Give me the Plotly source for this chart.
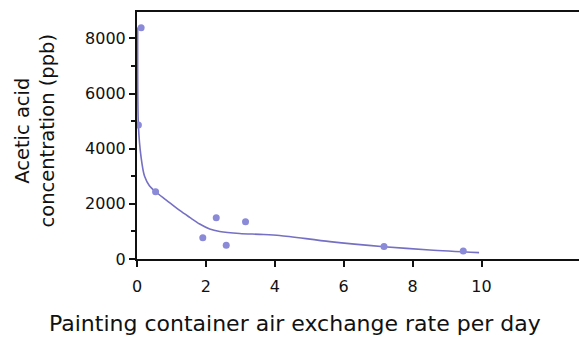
import plotly.graph_objects as go

# Measured acetic acid concentrations vs. container air exchange rate
rate = [0.12, 0.04, 0.54, 1.91, 2.30, 2.59, 3.15, 7.17, 9.47]
acetic_ppb = [8390, 4860, 2440, 770, 1500, 500, 1350, 450, 290]

# Fitted trend line
fit_rate = [0.02, 0.04, 0.12, 0.22, 0.36, 0.54, 0.85, 1.24, 1.53, 1.82,
            2.11, 2.40, 2.98, 3.56, 4.14, 5.60, 7.17, 8.50, 9.93]
fit_ppb = [8400, 4860, 3680, 3000, 2660, 2440, 2140, 1760, 1510, 1270,
           1090, 1000, 925, 895, 855, 630, 447, 327, 230]

x_ticks = [0, 2, 4, 6, 8, 10]
y_ticks = [0, 2000, 4000, 6000, 8000]

x_title = "Painting container air exchange rate per day"
y_title = "Acetic acid<br>concentration (ppb)"

font_family = "'DejaVu Sans', sans-serif"

fig = go.Figure()
fig.add_trace(go.Scatter(
    x=fit_rate, y=fit_ppb, mode="lines",
    line=dict(color="#7570c4", width=1.6, shape="spline", smoothing=0.8),
    hoverinfo="skip", showlegend=False,
))
fig.add_trace(go.Scatter(
    x=rate, y=acetic_ppb, mode="markers",
    marker=dict(color="#8a8ad8", size=7, symbol="circle"),
    showlegend=False,
))

fig.update_layout(
    width=579, height=339,
    margin=dict(l=137, r=0, t=12, b=80),
    paper_bgcolor="white", plot_bgcolor="white",
    font=dict(family=font_family, color="#111111", size=16),
    xaxis=dict(
        range=[0, 12.83], tickvals=x_ticks, ticktext=[str(v) for v in x_ticks],
        ticks="outside", ticklen=6, tickwidth=2, tickcolor="#111111",
        ticklabelstandoff=6,
        showline=True, linecolor="#111111", linewidth=2, mirror=True,
        showgrid=False, zeroline=False,
    ),
    yaxis=dict(
        range=[0, 8960], tickvals=y_ticks, ticktext=[str(v) for v in y_ticks],
        ticks="outside", ticklen=6, tickwidth=2, tickcolor="#111111",
        minor=dict(dtick=1000, ticks="outside", ticklen=4, tickwidth=1.5,
                   tickcolor="#111111", showgrid=False),
        showline=True, linecolor="#111111", linewidth=2,
        showgrid=False, zeroline=False,
    ),
    annotations=[
        dict(text=x_title, xref="paper", yref="paper", x=0.357, y=0,
             xanchor="center", yanchor="middle", yshift=-64,
             showarrow=False, font=dict(size=22)),
        dict(text=y_title, xref="paper", yref="paper", x=0, y=0.5,
             xanchor="center", yanchor="middle", xshift=-103, yshift=5,
             textangle=-90, showarrow=False, font=dict(size=19.5)),
    ],
)

fig.write_html("out.html")
